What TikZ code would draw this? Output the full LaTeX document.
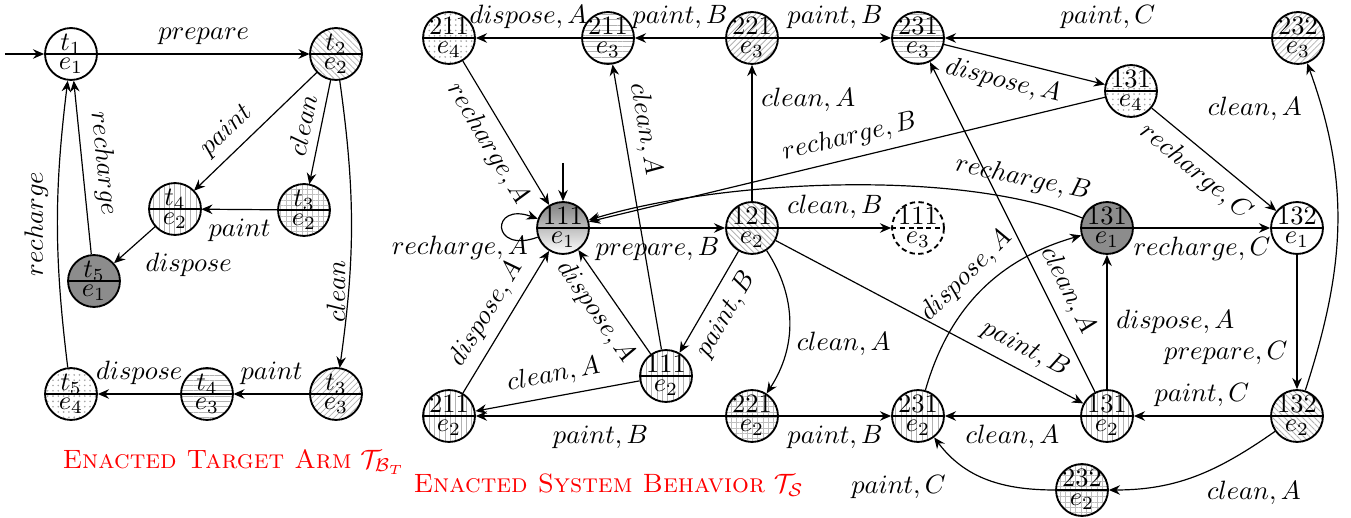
\documentclass[tikz,border=0pt]{standalone}
\usetikzlibrary{arrows.meta,patterns.meta}
\newcommand\mkstate[6][]{%
  \node[stnode,#6] (#2) at (#3) {};
  \draw[line width=0.7pt,#1] (#2.west) -- (#2.east);
  \node[inner sep=0pt, anchor=base] (#2-u) at ([yshift=1.3pt]#2.center) {#4};
  \node[inner sep=0pt, anchor=base] (#2-l) at ([yshift=-5.7pt]#2.center) {#5};
}
\begin{document}
\begin{tikzpicture}[x=0.3774pt,y=-0.3774pt,
  stnode/.style={circle, draw, line width=0.7pt, minimum size=19.6pt, inner sep=0pt},
  arr/.style={-{Stealth[length=4.2pt,width=3.6pt,inset=1.4pt]}, line width=0.45pt},
  pNW/.style={pattern={Lines[angle=-45,distance=1.6pt,line width=0.3pt]}, pattern color=gray!60},
  pNE/.style={pattern={Lines[angle=45,distance=1.6pt,line width=0.3pt]}, pattern color=gray!60},
  pH/.style={pattern={Lines[angle=0,distance=2pt,line width=0.3pt]}, pattern color=gray!60},
  pV/.style={pattern={Lines[angle=90,distance=2pt,line width=0.3pt]}, pattern color=gray!60},
  pG/.style={pattern={Hatch[angle=0,distance=2pt,line width=0.3pt]}, pattern color=gray!50},
  pD/.style={pattern={Dots[distance=2pt,radius=0.35pt]}, pattern color=gray!70},
  dark/.style={fill=black!45},
  shadeA/.style={top color=black!50, bottom color=white},
  dashA/.style={dash pattern=on 2pt off 1.3pt},
  captxt/.style={anchor=base west, inner sep=0pt, text=red}
]
\useasboundingbox (0,0) rectangle (1351,518);

% ---------- left: target arm ----------
\mkstate{t1}{71,54}{$t_1$}{$e_1$}{}
\mkstate{t2}{336,54}{$t_2$}{$e_2$}{pNW}
\mkstate{t4a}{175,209}{$t_4$}{$e_2$}{pV}
\mkstate{t3a}{304,210}{$t_3$}{$e_2$}{pG}
\mkstate{t5a}{94,281}{$t_5$}{$e_1$}{dark}
\mkstate{t5b}{71,394}{$t_5$}{$e_4$}{pD}
\mkstate{t4b}{207,394}{$t_4$}{$e_3$}{pH}
\mkstate{t3b}{336,394}{$t_3$}{$e_3$}{pNE}

\coordinate (i1) at (5,54);
\draw[arr] (i1) -- (t1);
\draw[arr] (t1) -- node[above] {$prepare$} (t2);
\draw[arr] (t2) -- node[sloped, above, pos=0.62] {$paint$} (t4a);
\draw[arr] (t2) -- node[sloped, above, pos=0.47] {$clean$} (t3a);
\draw[arr] (t3a) -- node[below] {$paint$} (t4a);
\draw[arr] (t4a) -- node[pos=1, anchor=west, shift={(22,2)}] {$dispose$} (t5a);
\draw[arr] (t5a) -- node[sloped, above, pos=0.51] {$recharge$} (t1);
\draw[arr] (t5b) to[bend left=7] node[pos=0.5, rotate=90, anchor=south] {$recharge$} (t1);
\draw[arr] (t2) to[bend left=8] node[pos=0.75, rotate=90, anchor=south, inner sep=1pt] {$clean$} (t3b);
\draw[arr] (t3b) -- node[above] {$paint$} (t4b);
\draw[arr] (t4b) -- node[above] {$dispose$} (t5b);

\node[captxt] (cap1) at (62,468) {\textsc{Enacted Target Arm} $\mathcal{T}_{\mathcal{B}_T}$};

% ---------- right: system behaviour ----------
\mkstate{a211e4}{449,38}{211}{$e_4$}{pD}
\mkstate{a211e3}{608,38}{211}{$e_3$}{pH}
\mkstate{a221e3}{752,38}{221}{$e_3$}{pNE}
\mkstate{a231e3}{918,38}{231}{$e_3$}{pH}
\mkstate{a232e3}{1298,38}{232}{$e_3$}{pNE}
\mkstate{a131e4}{1131,91}{131}{$e_4$}{pD}
\mkstate{a111e1}{563,228}{111}{$e_1$}{shadeA}
\mkstate{a121e2}{752,228}{121}{$e_2$}{pNW}
\mkstate[dashA]{a111e3}{918,228}{111}{$e_3$}{dashA}
\mkstate{a131e1}{1107,228}{131}{$e_1$}{dark}
\mkstate{a132e1}{1297,228}{132}{$e_1$}{}
\mkstate{a111e2}{666,376}{111}{$e_2$}{pV}
\mkstate{a211e2}{449,416}{211}{$e_2$}{pV}
\mkstate{a221e2}{752,416}{221}{$e_2$}{pG}
\mkstate{a231e2}{918,416}{231}{$e_2$}{pV}
\mkstate{a131e2}{1107,416}{131}{$e_2$}{pV}
\mkstate{a132e2}{1297,416}{132}{$e_2$}{pNW}
\mkstate{a232e2}{1082,490}{232}{$e_2$}{pG}

\coordinate (i2) at (563,163);
\draw[arr] (i2) -- (a111e1);

\draw[arr] (a211e3) -- node[above] {$dispose, A$} (a211e4);
\draw[arr] (a221e3) -- node[above] {$paint, B$} (a211e3);
\draw[arr] (a221e3) -- node[above] {$paint, B$} (a231e3);
\draw[arr] (a232e3) -- node[above] {$paint, C$} (a231e3);
\draw[arr] (a231e3) -- node[sloped, below, pos=0.4] {$dispose, A$} (a131e4);
\draw[arr] (a131e4) -- node[sloped, above, pos=0.485] {$recharge, B$} (a111e1);
\draw[arr] (a131e4) -- node[sloped, below, pos=0.46] {$recharge, C$} (a132e1);
\draw[arr] (a211e4) -- node[sloped, below, pos=0.5] {$recharge, A$} (a111e1);
\draw[arr] (a111e1) to[out=200, in=160, looseness=7] node[pos=0.5, anchor=east, shift={(35,20)}] {$recharge, A$} (a111e1);
\draw[arr] (a111e1) -- node[below] {$prepare, B$} (a121e2);
\draw[arr] (a121e2) -- node[right, pos=0.74] {$clean, A$} (a221e3);
\draw[arr] (a121e2) -- node[above] {$clean, B$} (a111e3);
\draw[arr] (a131e1) to[out=158, in=17, looseness=0.7] node[sloped, above, pos=0.15] {$recharge, B$} (a111e1);
\draw[arr] (a131e1) -- node[below] {$recharge, C$} (a132e1);
\draw[arr] (a132e1) -- node[left, pos=0.73] {$prepare, C$} (a132e2);
\draw[arr] (a132e2) to[out=72, in=-70] node[pos=0.87, left=4pt] {$clean, A$} (a232e3);
\draw[arr] (a132e2) -- node[above] {$paint, C$} (a131e2);
\draw[arr] (a132e2) to[out=215, in=0] node[pos=0.25, below, shift={(19,14)}] {$clean, A$} (a232e2);
\draw[arr] (a232e2) to[out=180, in=-53] node[pos=0.6, left, shift={(-20,13)}] {$paint, C$} (a231e2);
\draw[arr] (a131e2) -- node[below] {$clean, A$} (a231e2);
\draw[arr] (a131e2) -- node[right, pos=0.5] {$dispose, A$} (a131e1);
\draw[arr] (a131e2) -- node[sloped, above, pos=0.28] {$clean, A$} (a231e3);
\draw[arr] (a231e2) to[out=74, in=196] node[sloped, above, pos=0.5] {$dispose, A$} (a131e1);
\draw[arr] (a121e2) -- node[sloped, above, pos=0.78] {$paint, B$} (a131e2);
\draw[arr] (a121e2) -- node[sloped, below, pos=0.52] {$paint, B$} (a111e2);
\draw[arr] (a121e2) to[out=-57, in=57] node[right, pos=0.65] {$clean, A$} (a221e2);
\draw[arr] (a111e2) -- node[sloped, below, pos=0.52] {$dispose, A$} (a111e1);
\draw[arr] (a111e2) -- node[sloped, above, pos=0.76] {$clean, A$} (a211e3);
\draw[arr] (a111e2) -- node[sloped, above] {$clean, A$} (a211e2);
\draw[arr] (a211e2) -- node[sloped, above, pos=0.48] {$dispose, A$} (a111e1);
\draw[arr] (a221e2) -- node[below] {$paint, B$} (a211e2);
\draw[arr] (a221e2) -- node[below] {$paint, B$} (a231e2);

\node[captxt] (cap2) at (413,493) {\textsc{Enacted System Behavior} $\mathcal{T}_{\mathcal{S}}$};
\end{tikzpicture}
\end{document}
